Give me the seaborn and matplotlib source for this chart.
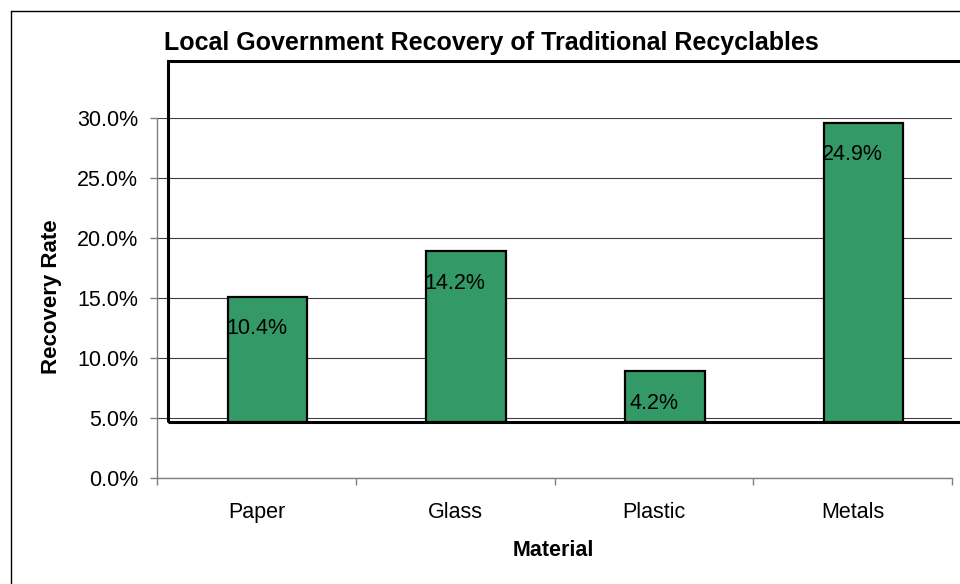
import matplotlib
matplotlib.use("Agg")
import matplotlib.pyplot as plt
from matplotlib.patches import Rectangle
from matplotlib.lines import Line2D
from matplotlib.ticker import FuncFormatter, FixedLocator
import seaborn as sns
import pandas as pd

# Chart data
materials = ["Paper", "Glass", "Plastic", "Metals"]
recovery_rate = [10.4, 14.2, 4.2, 24.9]   # percent
floor_level = 4.7                           # percent, base of the columns
y_ticks = [0, 5, 10, 15, 20, 25, 30]

title = "Local Government Recovery of Traditional Recyclables"
x_title = "Material"
y_title = "Recovery Rate"

sns.set_theme(style="white")
plt.rcParams["font.family"] = ["Liberation Sans", "DejaVu Sans"]
plt.rcParams["text.color"] = "black"
plt.rcParams["axes.labelcolor"] = "black"
plt.rcParams["xtick.color"] = "black"
plt.rcParams["ytick.color"] = "black"

W, H = 960, 584
fig = plt.figure(figsize=(W / 100, H / 100), dpi=100)
fig.patch.set_facecolor("white")

# plot area in pixel terms
left_px, right_px, bottom_px, top_px = 157, 952, 478, 118
ax = fig.add_axes([left_px / W, 1 - bottom_px / H,
                   (right_px - left_px) / W, (bottom_px - top_px) / H])

df = pd.DataFrame({"Material": materials, "Recovery": recovery_rate})
sns.barplot(data=df, x="Material", y="Recovery", ax=ax, color="#339966",
            saturation=1, width=0.40, errorbar=None, edgecolor="black",
            linewidth=1.6, bottom=floor_level, zorder=3)

# depth offset of the columns relative to the category centres
depth_shift = 11 / (right_px - left_px) * len(materials)
for p in ax.patches:
    p.set_x(p.get_x() + depth_shift)

ax.set_xlim(-0.5, len(materials) - 0.5)
ax.set_ylim(y_ticks[0], y_ticks[-1])
ax.set_yticks(y_ticks)
ax.yaxis.set_major_formatter(FuncFormatter(lambda v, _: f"{v:.1f}%"))
ax.set_xlabel("")
ax.set_ylabel("")

# back wall / floor frame
wall_left = -0.5 + depth_shift
wall_top = (bottom_px - 61) / 12
wall = Rectangle((wall_left, floor_level), 10, wall_top - floor_level,
                 fill=False, edgecolor="black", linewidth=2.2,
                 clip_on=False, zorder=2.5)
ax.add_patch(wall)

# gridlines
ax.yaxis.grid(True, color="#404040", linewidth=0.8)
ax.xaxis.grid(False)
ax.set_axisbelow(True)

for s in ["top", "right"]:
    ax.spines[s].set_visible(False)
for s in ["left", "bottom"]:
    ax.spines[s].set_color("#808080")
    ax.spines[s].set_linewidth(1.0)

ax.tick_params(axis="y", left=True, length=5, width=1, color="#808080",
               pad=8.5, labelsize=15.5, labelcolor="black")
ax.tick_params(axis="x", which="major", bottom=True, length=0, pad=17.5,
               labelsize=15.5, labelcolor="black")
ax.xaxis.set_minor_locator(FixedLocator([i - 0.5 for i in range(len(materials) + 1)]))
ax.tick_params(axis="x", which="minor", bottom=True, length=5, width=1,
               color="#808080", direction="out")

# value labels near the top of each column
for i, v in enumerate(recovery_rate):
    ax.annotate(f"{v:.1f}%", xy=(i, floor_level + v), xytext=(0, -23),
                textcoords="offset points", ha="center", va="center",
                fontsize=15.5, color="black", zorder=5)

# titles
fig.text(491.5 / W, 1 - 43 / H, title, ha="center", va="center",
         fontsize=18, fontweight="bold", color="black")
fig.text(553 / W, 1 - 550 / H, x_title, ha="center", va="center",
         fontsize=15.5, fontweight="bold", color="black")
fig.text(52 / W, 1 - 297 / H, y_title, ha="center", va="center",
         rotation=90, fontsize=16, fontweight="bold", color="black")

# chart border
fig.add_artist(Line2D([10.5 / W, 10.5 / W], [0, 1 - 10.5 / H],
                      transform=fig.transFigure, color="black", linewidth=1))
fig.add_artist(Line2D([10.5 / W, 1], [1 - 10.5 / H, 1 - 10.5 / H],
                      transform=fig.transFigure, color="black", linewidth=1))

fig.savefig("out.png", dpi=100, facecolor="white")
